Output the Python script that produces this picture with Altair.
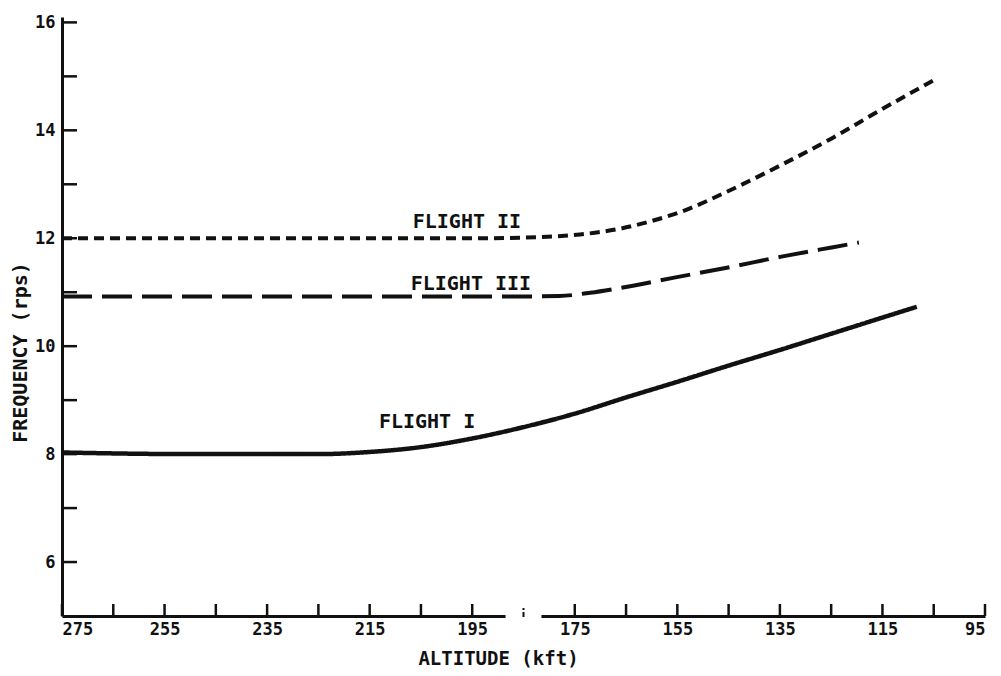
import altair as alt
import pandas as pd

# ---- data ----
f1_alt = [275, 250, 225, 215, 205, 195, 185, 175, 165, 155, 145, 135, 125, 115, 108.3]
f1_freq = [8.03, 8.0, 8.0, 8.04, 8.13, 8.29, 8.50, 8.75, 9.05, 9.34, 9.64, 9.93, 10.23, 10.53, 10.73]

f2_alt = [275, 250, 228, 210, 193, 182, 174, 166, 160, 154, 144.5, 134.7, 124.9, 115.3, 104.4]
f2_freq = [12.0, 12.0, 12.0, 12.0, 12.0, 12.02, 12.07, 12.18, 12.32, 12.50, 12.90, 13.36, 13.85, 14.38, 14.96]

f3_alt = [275, 250, 228, 205, 189, 178, 172, 166, 155.6, 144.5, 134.7, 124.9, 119.6]
f3_freq = [10.92, 10.92, 10.92, 10.92, 10.92, 10.93, 10.99, 11.08, 11.27, 11.47, 11.66, 11.83, 11.92]

label_text = ["FLIGHT II", "FLIGHT III", "FLIGHT I"]
label_alt = [206.6, 207.0, 213.2]
label_freq = [12.30, 11.16, 8.59]

x_label_values = [275, 255, 235, 215, 195, 175, 155, 135, 115, 95]
x_tick_values = [275, 265, 255, 245, 235, 225, 215, 205, 195, 175, 165, 155, 145, 135, 125, 115, 105, 95]
y_label_values = [6, 8, 10, 12, 14, 16]
y_tick_values = [6, 7, 8, 9, 10, 11, 12, 13, 14, 15, 16]
break_alt = [188.5, 181.5]
break_mark_alt = [185]

W, H = 923, 599
FONT = "DejaVu Sans Mono"
INK = "#111111"

xscale = alt.Scale(domain=[95, 275], reverse=True, nice=False, zero=False)
yscale = alt.Scale(domain=[5, 16.1], nice=False, zero=False)

def curve(alts, freqs, dash, width=4):
    df = pd.DataFrame({"alt": alts, "freq": freqs})
    m = alt.Chart(df).mark_line(color=INK, strokeWidth=width, interpolate="monotone",
                                strokeDash=dash if dash else [1, 0])
    return m.encode(
        x=alt.X("alt:Q", scale=xscale),
        y=alt.Y("freq:Q", scale=yscale),
    )

axes_df = pd.DataFrame({"alt": [275], "freq": [5]})
base = alt.Chart(axes_df).mark_point(opacity=0).encode(
    x=alt.X("alt:Q", scale=xscale,
            axis=alt.Axis(values=x_label_values, format="d", ticks=False, grid=False,
                          domainColor=INK, domainWidth=3, labelFont=FONT, labelFontSize=17,
                          labelFontWeight="bold", labelColor=INK, labelPadding=5,
                          title="ALTITUDE (kft)", titleFont=FONT, titleFontSize=19,
                          titleFontWeight="bold", titleColor=INK, titleX=436, titleY=33,
                          titleAlign="center", titleBaseline="top")),
    y=alt.Y("freq:Q", scale=yscale,
            axis=alt.Axis(values=y_label_values, format="d", ticks=False, grid=False,
                          domainColor=INK, domainWidth=3, labelFont=FONT, labelFontSize=17,
                          labelFontWeight="bold", labelColor=INK, labelPadding=7,
                          title="FREQUENCY (rps)", titleFont=FONT, titleFontSize=20,
                          titleFontWeight="bold", titleColor=INK, titleX=-42, titleY=335,
                          titleAlign="center", titleBaseline="middle")),
)

yticks = alt.Chart(pd.DataFrame({"freq": y_tick_values})).mark_rule(color=INK, strokeWidth=2.5).encode(
    y=alt.Y("freq:Q", scale=yscale), x=alt.value(0), x2=alt.value(15))

xticks = alt.Chart(pd.DataFrame({"alt": x_tick_values})).mark_rule(color=INK, strokeWidth=2.5).encode(
    x=alt.X("alt:Q", scale=xscale), y=alt.value(H), y2=alt.value(H - 12))

gap = alt.Chart(pd.DataFrame({"a": [break_alt[0]], "b": [break_alt[1]]})).mark_rule(
    color="white", strokeWidth=6).encode(
    x=alt.X("a:Q", scale=xscale), x2="b:Q", y=alt.value(H))

bmark = alt.Chart(pd.DataFrame({"alt": break_mark_alt})).mark_rule(
    color=INK, strokeWidth=2, strokeDash=[5, 2]).encode(
    x=alt.X("alt:Q", scale=xscale), y=alt.value(H + 1), y2=alt.value(H - 8))

labels = alt.Chart(pd.DataFrame({"alt": label_alt, "freq": label_freq, "t": label_text})).mark_text(
    font=FONT, fontSize=20, fontWeight="bold", color=INK, align="left", baseline="middle").encode(
    x=alt.X("alt:Q", scale=xscale), y=alt.Y("freq:Q", scale=yscale), text="t:N")

chart = alt.layer(
    base, yticks, xticks, gap, bmark,
    curve(f1_alt, f1_freq, None, 4.5),
    curve(f2_alt, f2_freq, [10, 6]),
    curve(f3_alt, f3_freq, [30, 10]),
    labels,
).properties(
    width=W, height=H,
    autosize=alt.AutoSizeParams(type="none"),
    padding={"left": 54, "top": 9, "right": 8, "bottom": 52},
    background="white",
).configure_view(stroke=None)

chart.save("out.html", embed_options={"renderer": "svg", "actions": False})
